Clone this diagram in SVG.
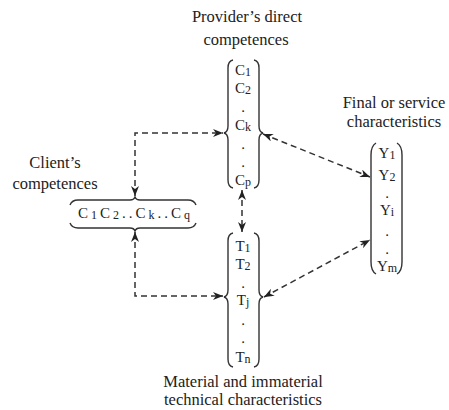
<svg xmlns="http://www.w3.org/2000/svg" width="449" height="410" viewBox="0 0 449 410">
<style>
text{font-family:"Liberation Serif","Times New Roman",serif;fill:#222}
.lbl{font-size:16.5px;text-anchor:middle}
.v{font-size:15px;text-anchor:middle}
.s{font-size:12px}
.br{fill:none;stroke:#333;stroke-width:1.4}
.dl{fill:none;stroke:#333;stroke-width:1.5;stroke-dasharray:6 4;marker-start:url(#ah);marker-end:url(#ah)}
</style>
<defs>
<marker id="ah" viewBox="0 0 10 8" refX="10" refY="4" markerWidth="10" markerHeight="8" markerUnits="userSpaceOnUse" orient="auto-start-reverse">
<path d="M0,0 L10,4 L0,8 L3,4 z" fill="#222"/>
</marker>
</defs>
<rect width="449" height="410" fill="#fff"/>

<g id="provider">
<text class="lbl" x="247" y="22">Provider’s direct</text>
<text class="lbl" x="246" y="45">competences</text>
<path class="br" d="M233 60 Q228 61 228 68 L228 126 Q228 132 224 133 Q228 134 228 140 L228 180 Q228 187 233 188"/>
<path class="br" d="M254 60 Q259 61 259 68 L259 126 Q259 132 263 133 Q259 134 259 140 L259 180 Q259 187 254 188"/>
<text class="v" x="243" y="75">C<tspan class="s" dy="1">1</tspan></text>
<text class="v" x="243" y="93">C<tspan class="s" dy="1">2</tspan></text>
<text class="v" x="243" y="112">.</text>
<text class="v" x="243" y="130">C<tspan class="s" dy="1">k</tspan></text>
<text class="v" x="243" y="149">.</text>
<text class="v" x="243" y="167">.</text>
<text class="v" x="243" y="185">C<tspan class="s" dy="1">p</tspan></text>
</g>

<g id="technical">
<path class="br" d="M233 233 Q228 234 228 241 L228 290 Q228 296 224 297 Q228 298 228 304 L228 359 Q228 366 233 367"/>
<path class="br" d="M254 233 Q259 234 259 241 L259 290 Q259 296 263 297 Q259 298 259 304 L259 359 Q259 366 254 367"/>
<text class="v" x="243" y="251">T<tspan class="s" dy="1">1</tspan></text>
<text class="v" x="243" y="269">T<tspan class="s" dy="1">2</tspan></text>
<text class="v" x="243" y="288">.</text>
<text class="v" x="243" y="305">T<tspan class="s" dy="1">j</tspan></text>
<text class="v" x="243" y="325">.</text>
<text class="v" x="243" y="343">.</text>
<text class="v" x="243" y="362">T<tspan class="s" dy="1">n</tspan></text>
<text class="lbl" x="243" y="387">Material and immaterial</text>
<text class="lbl" x="243" y="405">technical characteristics</text>
</g>

<g id="final">
<text class="lbl" x="394" y="108">Final or service</text>
<text class="lbl" x="394" y="127">characteristics</text>
<path class="br" d="M376 143 Q371 146 371 155 L371 262 Q371 271 376 274"/>
<path class="br" d="M397 143 Q402 146 402 155 L402 262 Q402 271 397 274"/>
<text class="v" x="387" y="158">Y<tspan class="s" dy="1">1</tspan></text>
<text class="v" x="387" y="180">Y<tspan class="s" dy="1">2</tspan></text>
<text class="v" x="387" y="198">.</text>
<text class="v" x="387" y="215">Y<tspan class="s" dy="1">i</tspan></text>
<text class="v" x="387" y="236">.</text>
<text class="v" x="387" y="254">.</text>
<text class="v" x="387" y="271">Y<tspan class="s" dy="1">m</tspan></text>
</g>

<g id="client">
<text class="lbl" x="55" y="168">Client’s</text>
<text class="lbl" x="55" y="189">competences</text>
<path class="br" d="M70 205 Q72 200 78 200 L130 200 Q134 200 135 197 Q136 200 140 200 L188 200 Q194 200 196 205"/>
<path class="br" d="M70 223 Q72 228 78 228 L130 228 Q134 228 135 231 Q136 228 140 228 L188 228 Q194 228 196 223"/>
<text x="78" y="218" font-size="15" textLength="112" lengthAdjust="spacing">C<tspan class="s" dy="1">1</tspan><tspan dy="-1">C</tspan><tspan class="s" dy="1">2</tspan><tspan dy="-1">..C</tspan><tspan class="s" dy="1">k</tspan><tspan dy="-1">..C</tspan><tspan class="s" dy="1">q</tspan></text>
</g>

<g id="connectors">
<path class="dl" d="M135 196 V133 H223"/>
<path class="dl" d="M135 232 V296 H223"/>
<path class="dl" d="M242 190 V232"/>
<path class="dl" d="M263 134 L370 177"/>
<path class="dl" d="M264 297 L370 240"/>
</g>
</svg>
